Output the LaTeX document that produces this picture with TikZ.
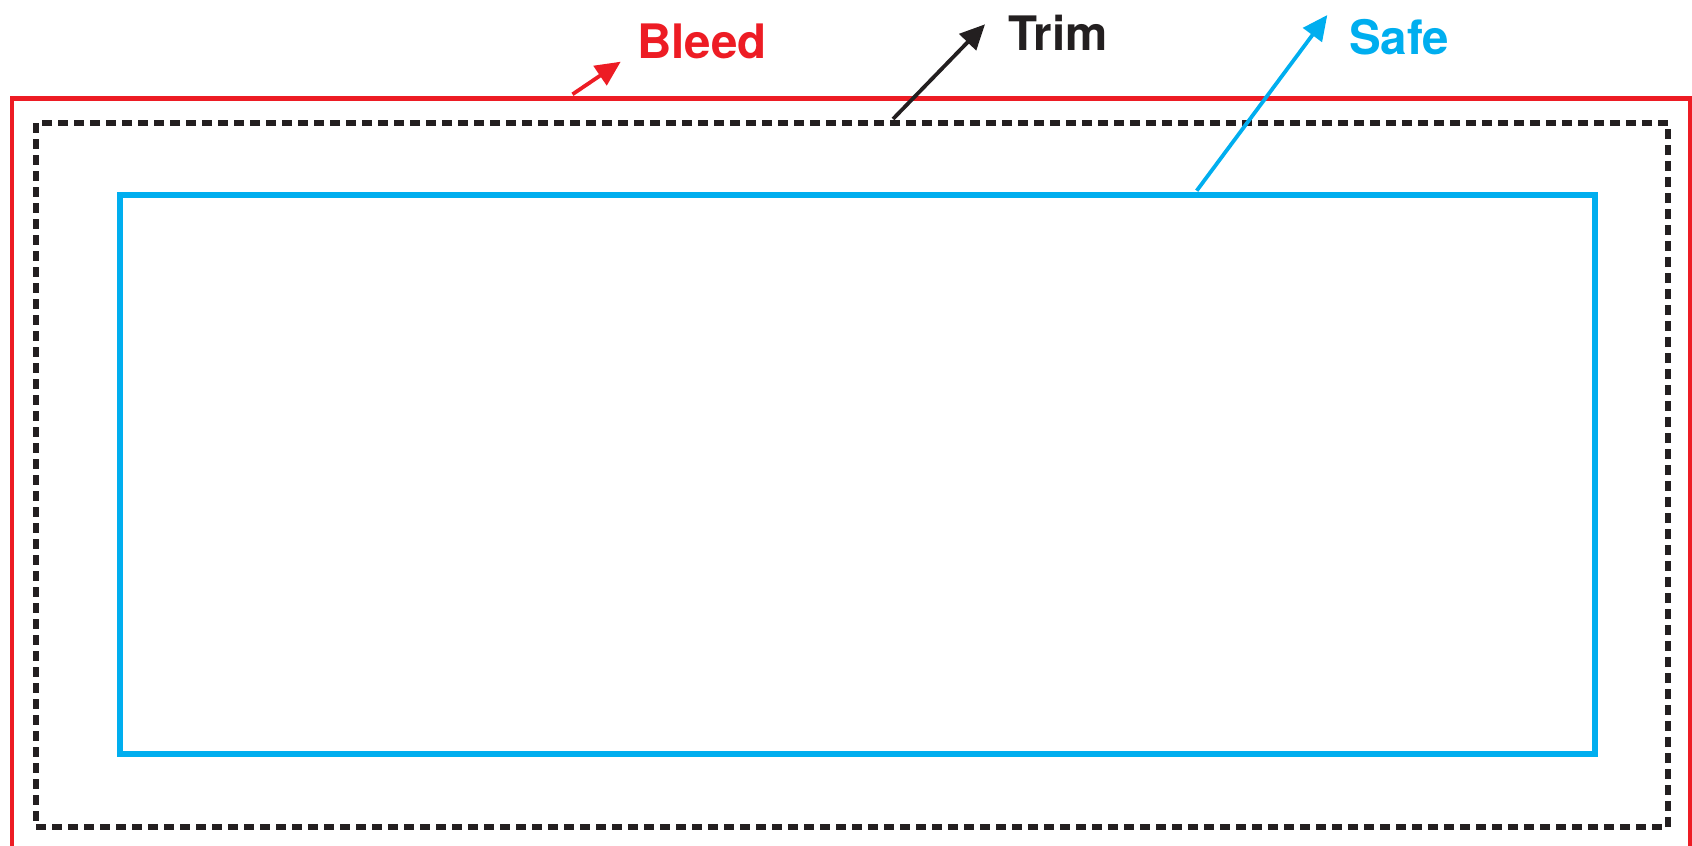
\documentclass[tikz,border=0pt]{standalone}
\usepackage{fontspec}
\setmainfont{TeX Gyre Heros}
\usetikzlibrary{arrows.meta}
\definecolor{bleedred}{HTML}{ED1C24}
\definecolor{safeblue}{HTML}{00AEEF}
\definecolor{trimblack}{HTML}{231F20}
\tikzset{
  lbl/.style={font=\fontsize{47.5}{50}\selectfont\bfseries, inner sep=0pt, anchor=base west},
  pointer/.style={line width=3.8pt, -{Triangle[length=25pt, width=23pt]}},
}
\begin{document}
\begin{tikzpicture}[x=1pt, y=-1pt]
\useasboundingbox (0,0) rectangle (1692,846);
\clip (0,0) rectangle (1692,846);
% frames
\draw[bleedred, line width=4.8pt] (12,98.5) rectangle (1690,880);
\draw[trimblack, line width=5.2pt, dash pattern=on 10pt off 6pt] (36,123) rectangle (1668,827);
\draw[safeblue, line width=5.4pt] (120,195) rectangle (1595,754);
% labels
\node[lbl, text=bleedred] (bleed) at (637,58.3) {Bleed};
\node[lbl, text=trimblack] (trim) at (1008,50) {Trim};
\node[lbl, text=safeblue] (safe) at (1349,54) {Safe};
% pointer coordinates
\coordinate (bs) at (572.5,94.3);
\coordinate (bt) at (620.7,61.7);
\coordinate (ts) at (893,119);
\coordinate (tt) at (985,24.3);
\coordinate (ss) at (1196.7,190.7);
\coordinate (st) at (1327.3,15);
\draw[pointer, bleedred] (bs) -- (bt);
\draw[pointer, trimblack] (ts) -- (tt);
\draw[pointer, safeblue] (ss) -- (st);
\end{tikzpicture}
\end{document}
